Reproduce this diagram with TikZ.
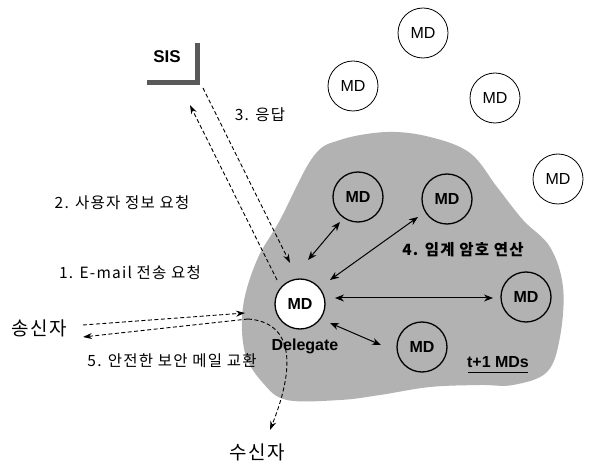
\documentclass[tikz,border=0pt]{standalone}
\usepackage{fontspec}
\setmainfont{Liberation Sans}
\newfontfamily\kr[LetterSpace=8]{Noto Sans CJK KR}
\usetikzlibrary{arrows.meta}
\begin{document}
\begin{tikzpicture}[x=1pt,y=-1pt,
  mdout/.style={circle,draw,line width=0.8pt,minimum size=50pt,inner sep=0pt,font=\fontsize{16}{18}\selectfont},
  mdin/.style={circle,draw,line width=1.3pt,minimum size=50pt,inner sep=0pt,font=\fontsize{16}{18}\selectfont\bfseries},
  lbl/.style={inner sep=0pt,font=\kr\fontsize{15.5}{17}\selectfont},
  big/.style={inner sep=0pt,font=\kr\fontsize{19}{21}\selectfont},
  dbl/.style={line width=1pt,{Stealth[length=9pt,width=7pt]}-{Stealth[length=9pt,width=7pt]}},
  dsh/.style={line width=0.9pt,dash pattern=on 4pt off 2.5pt,-{Stealth[length=9pt,width=6pt]}}]
\useasboundingbox (0,0) rectangle (590,465);
\fill[white] (0,0) rectangle (590,465);
% blob
\fill[black!30] plot[smooth cycle,tension=0.6] coordinates {
 (387,132) (430,137) (470,153) (497,187) (523,220) (550,247) (563,287)
 (560,337) (547,372) (513,385) (480,385) (430,387) (380,395) (340,400)
 (287,400) (263,383) (245,353) (243,307) (257,260) (280,220) (313,157) (340,140)};
% outside MDs
\node[mdout] (o1) at (423,33) {MD};
\node[mdout] (o2) at (353,86) {MD};
\node[mdout] (o3) at (495,98) {MD};
\node[mdout] (o4) at (558,179) {MD};
% inside MDs
\node[mdin] (md1) at (358,197) {MD};
\node[mdin] (md2) at (447,199) {MD};
\node[mdin] (mdr) at (526,297) {MD};
\node[mdin] (mdb) at (422,347) {MD};
\node[mdin,fill=white] (del) at (300,304) {MD};
\node[inner sep=0pt,font=\fontsize{16}{18}\selectfont\bfseries] (dl) at (305,346) {Delegate};
\node[inner sep=0pt,font=\fontsize{16}{18}\selectfont\bfseries] (t1) at (498,362) {t+1 MDs};
\draw[line width=1pt] ([shift={(-30,11)}]t1.center) -- ([shift={(30,11)}]t1.center);
\node[lbl,font=\kr\bfseries\fontsize{15.5}{17}\selectfont] (l4) at (463,250) {4. 임계 암호 연산};
% SIS
\node[inner sep=0pt,font=\fontsize{17}{19}\selectfont\bfseries] (sis) at (167,57) {SIS};
\draw[line width=5pt,black!65,line join=miter]
  ([shift={(30,-14)}]sis.center) -- ([shift={(30,26)}]sis.center) -- ([shift={(-20,26)}]sis.center);
% people
\node[big] (snd) at (39,328) {송신자};
\node[big] (rcv) at (257,452) {수신자};
% labels
\node[lbl] (l3) at (260,115) {3. 응답};
\node[lbl] (l2) at (122,203) {2. 사용자 정보 요청};
\node[lbl] (l1) at (130,273) {1. E-mail 전송 요청};
\node[lbl] (l5) at (172,361) {5. 안전한 보안 메일 교환};
% dashed arrows
\draw[dsh] ([shift={(-23,-24)}]del.center) -- ([shift={(23,48)}]sis.center);
\draw[dsh] ([shift={(36,31)}]sis.center) -- ([shift={(-10,-41)}]del.center);
\draw[dsh] ([shift={(44,-3)}]snd.center) -- ([shift={(-55,9)}]del.center);
\coordinate (split) at ([shift={(-52,15)}]del.center);
\draw[dsh] (split) -- ([shift={(44,9)}]snd.center);
\draw[dsh] (split) .. controls (290,322) and (298,360) .. ([shift={(13,-22)}]rcv.center);
% solid double arrows
\draw[dbl] ([shift={(8,-44)}]del.center) -- ([shift={(-18,25)}]md1.center);
\draw[dbl] ([shift={(30,-24)}]del.center) -- ([shift={(-29,18)}]md2.center);
\draw[dbl] ([shift={(35,-6)}]del.center) -- ([shift={(-33,1)}]mdr.center);
\draw[dbl] ([shift={(30,19)}]del.center) -- ([shift={(-41,-2)}]mdb.center);
\end{tikzpicture}
\end{document}
